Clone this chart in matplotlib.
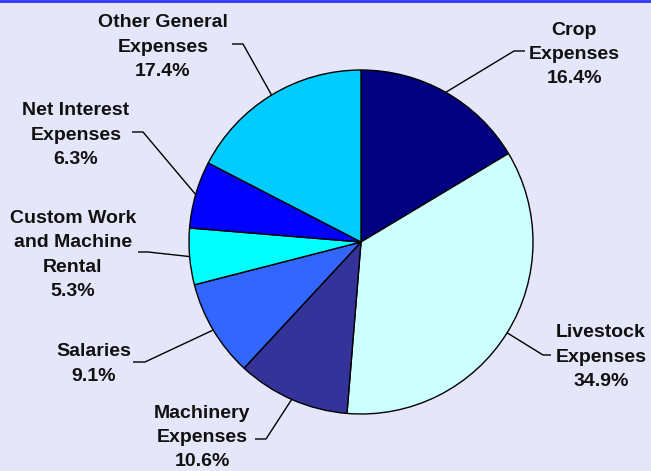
import numpy as np
import matplotlib
matplotlib.use("Agg")
import matplotlib.pyplot as plt

categories = ["Crop\nExpenses", "Livestock\nExpenses", "Machinery\nExpenses", "Salaries",
              "Custom Work\nand Machine\nRental", "Net Interest\nExpenses", "Other General\nExpenses"]
values = [16.4, 34.9, 10.6, 9.1, 5.3, 6.3, 17.4]
colors = ["#000080", "#CCFFFF", "#333399", "#3366FF", "#00FFFF", "#0000FF", "#00CCFF"]

# layout (pixel coordinates, y downward): label centre, elbow x, horizontal end x, elbow y
label_pos = [(574, 54.5), (601, 357), (202, 437.5), (94, 364), (73, 255), (76, 135), (163, 47)]
elbows = [((514, 51), (525, 51)), ((543, 355), (551, 355)), ((266, 439), (255, 439)),
          ((145, 362), (133, 362)), ((148, 252), (138, 252)), ((143, 132), (132, 132)),
          ((243, 44), (232, 44))]

W, H = 651, 471
fig = plt.figure(figsize=(W / 100, H / 100), dpi=100)
fig.patch.set_facecolor("#E6E6FA")
ax = fig.add_axes([0, 0, 1, 1])

cx, cy, r = 361, H - 242, 172
wedges, _ = ax.pie(values, colors=colors, startangle=90, counterclock=False,
                   center=(cx, cy), radius=r, frame=True,
                   wedgeprops=dict(edgecolor="black", linewidth=1.0))
ax.set_xlim(0, W)
ax.set_ylim(0, H)
ax.set_aspect("equal")
ax.axis("off")

for w, cat, v, (lx, ly), (e1, e2) in zip(wedges, categories, values, label_pos, elbows):
    mid = np.deg2rad((w.theta1 + w.theta2) / 2)
    ex, ey = cx + r * np.cos(mid), cy + r * np.sin(mid)
    ax.plot([ex, e1[0], e2[0]], [ey, H - e1[1], H - e2[1]], color="black", lw=1.0,
            solid_capstyle="butt", zorder=1)
    ax.text(lx, H - ly, f"{cat}\n{v:.1f}%", ha="center", va="center",
            fontsize=14, fontweight="bold", family="Liberation Sans",
            linespacing=1.55, color="#111111")

ax.plot([0, W], [H - 0.5, H - 0.5], color="#3333FF", lw=2, clip_on=False)

fig.savefig("out.png", dpi=100, facecolor=fig.get_facecolor())
